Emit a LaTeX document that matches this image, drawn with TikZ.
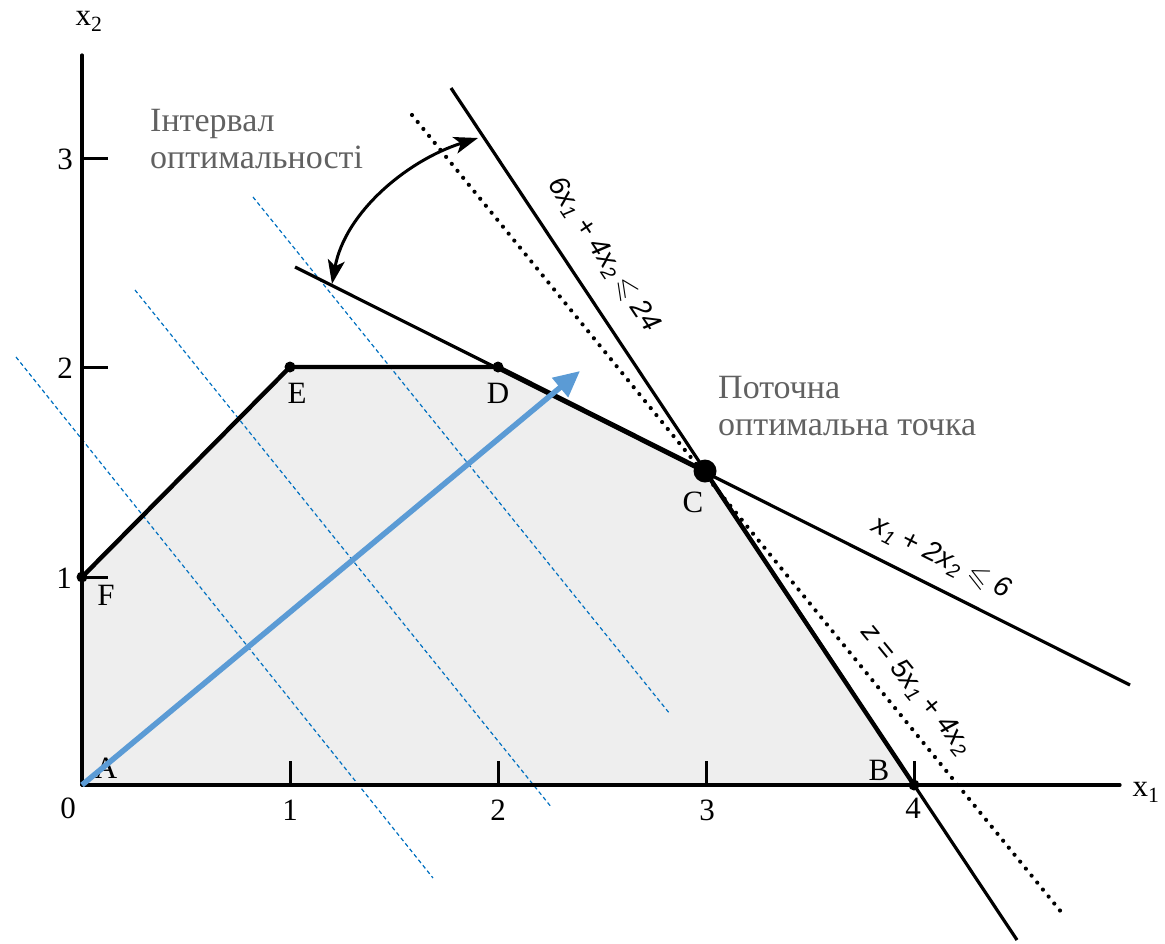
\documentclass[tikz,border=0pt]{standalone}
\usepackage{fontspec}
\setmainfont{Liberation Serif}
\newfontfamily\labsans{Liberation Sans}
\usepackage{amssymb}
\usetikzlibrary{arrows.meta}
\definecolor{isoblue}{RGB}{0,112,192}
\definecolor{arrowblue}{RGB}{91,155,213}
\definecolor{regiongray}{RGB}{238,238,238}
\begin{document}
\begin{tikzpicture}[x=1pt,y=-1pt,
  axisline/.style={line width=3.2pt, line cap=round},
  conline/.style={line width=3.2pt},
  boundline/.style={line width=4.4pt, line join=round},
  tickline/.style={line width=3pt},
  isoline/.style={draw=isoblue, line width=1.2pt, dash pattern=on 4pt off 3pt},
  zline/.style={line width=4.2pt, dash pattern=on 0pt off 9pt, line cap=round},
  ticklabel/.style={font=\fontsize{31}{33}\selectfont, inner sep=0pt},
  ptlabel/.style={font=\fontsize{31}{33}\selectfont, inner sep=0pt},
  graytext/.style={font=\fontsize{34}{37}\selectfont, text=black!62, align=left, inner sep=0pt, anchor=north west},
  eqlabel/.style={font=\fontsize{28}{30}\selectfont\labsans\itshape, inner sep=0pt},
  dotsmall/.style={circle, fill=black, inner sep=0pt, minimum size=11pt}
]
\useasboundingbox (0,0) rectangle (1165,943);

% key points
\coordinate (A) at (82,785);
\coordinate (B) at (914,785);
\coordinate (C) at (705,471);
\coordinate (D) at (498,367);
\coordinate (E) at (290,367);
\coordinate (F) at (82,577);

% feasible region
\fill[regiongray] (A) -- (B) -- (C) -- (D) -- (E) -- (F) -- cycle;

% iso-profit lines (blue dashed)
\coordinate (i1s) at (16,357);  \coordinate (i1e) at (433,878);
\coordinate (i2s) at (135,290); \coordinate (i2e) at (552,808);
\coordinate (i3s) at (253,197); \coordinate (i3e) at (670,714);
\draw[isoline] (i1s) -- (i1e);
\draw[isoline] (i2s) -- (i2e);
\draw[isoline] (i3s) -- (i3e);

% axes
\coordinate (xend) at (1120,785);
\coordinate (yend) at (82,55);
\draw[axisline] (A) -- (xend);
\draw[axisline] (A) -- (yend);
\foreach \x/\n in {290/1,498/2,706/3,914/4}{
  \coordinate (xt\n) at (\x,785); \coordinate (xtt\n) at (\x,761);
  \draw[tickline] (xt\n) -- (xtt\n);
}
\foreach \y/\n in {577/1,367/2,158/3}{
  \coordinate (yt\n) at (82,\y); \coordinate (ytt\n) at (108,\y);
  \draw[tickline] (yt\n) -- (ytt\n);
}
\node[ticklabel] (l0) at (68,808) {0};
\node[ticklabel] (lx1) at (290,810) {1};
\node[ticklabel] (lx2) at (498,810) {2};
\node[ticklabel] (lx3) at (707,810) {3};
\node[ticklabel] (lx4) at (913,808) {4};
\node[ticklabel] (ly1) at (64,578) {1};
\node[ticklabel] (ly2) at (65,368) {2};
\node[ticklabel] (ly3) at (65,159) {3};
\node[ticklabel] (xonelab) at (1146,792) {x\textsubscript{1}};
\node[ticklabel] (xtwolab) at (89,21) {x\textsubscript{2}};

% constraint lines
\coordinate (c1s) at (451,88);  \coordinate (c1e) at (1017,940);
\coordinate (c2s) at (295,267); \coordinate (c2e) at (1130,685);
\draw[conline] (c1s) -- (c1e);
\draw[conline] (c2s) -- (c2e);

% objective line (dotted)
\coordinate (zs) at (412,115); \coordinate (ze) at (1062,913);
\draw[zline] (zs) -- (ze);

% boundary
\draw[boundline] (F) -- (E) -- (D) -- (C) -- (B);

% vertices
\node[dotsmall] (dE) at (E) {};
\node[dotsmall] (dD) at (D) {};
\node[dotsmall] (dF) at (F) {};
\node[dotsmall] (dB) at (B) {};
\node[circle, fill=black, inner sep=0pt, minimum size=23pt] (dC) at (C) {};

% vertex labels
\node[ptlabel] (lA) at (106,768) {A};
\node[ptlabel] (lB) at (879,770) {B};
\node[ptlabel] (lC) at (693,502) {C};
\node[ptlabel] (lD) at (498,393) {D};
\node[ptlabel] (lE) at (297,393) {E};
\node[ptlabel] (lF) at (106,595) {F};

% interval arrow
\coordinate (arcS) at (332,284);
\coordinate (arcE) at (478,138);
\draw[line width=3pt, {Stealth[length=24pt,width=17pt,inset=6pt]}-{Stealth[length=24pt,width=17pt,inset=6pt]}]
  (arcS) .. controls (345,212) and (408,160) .. (arcE);

% gradient arrow
\coordinate (gEnd) at (580,371);
\draw[arrowblue, line width=5.5pt, -{Triangle[length=26pt,width=24pt]}] (A) -- (gEnd);

% texts
\node[graytext] (tint) at (150,109) {Інтервал\\оптимальності};
\node[graytext] (tcur) at (718,376) {Поточна\\оптимальна точка};

% equation labels
\node[eqlabel, rotate=-56.2] (e1) at (603,255) {6x\textsubscript{1} + 4x\textsubscript{2}\,$\leqslant$ 24};
\node[eqlabel, rotate=-26.6] (e2) at (941,558) {x\textsubscript{1} + 2x\textsubscript{2} $\leqslant$ 6};
\node[eqlabel, rotate=-50.8] (e3) at (916,690) {z = 5x\textsubscript{1} + 4x\textsubscript{2}};
\end{tikzpicture}
\end{document}
